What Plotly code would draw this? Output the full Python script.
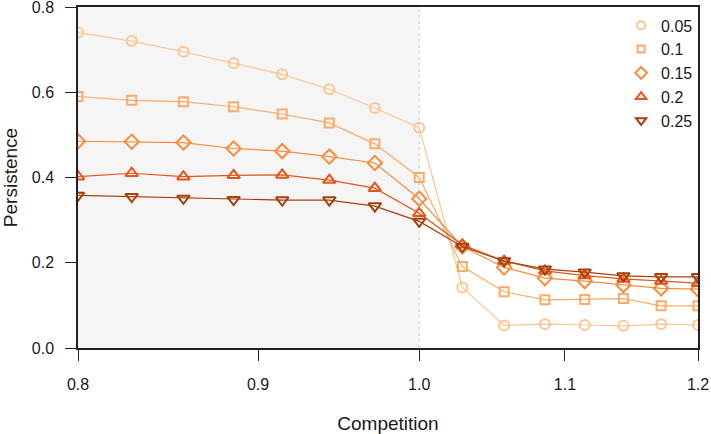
import plotly.graph_objects as go

competition = [0.8, 0.8286, 0.8571, 0.8857, 0.9143, 0.9429, 0.9714, 1.0,
               1.0286, 1.0571, 1.0857, 1.1143, 1.1429, 1.1714, 1.2]

series_names = ["0.05", "0.1", "0.15", "0.2", "0.25"]

p005 = [0.740, 0.720, 0.695, 0.668, 0.642, 0.607, 0.563, 0.517,
        0.142, 0.053, 0.056, 0.054, 0.052, 0.056, 0.054]
p010 = [0.590, 0.581, 0.578, 0.566, 0.549, 0.528, 0.479, 0.400,
        0.191, 0.132, 0.113, 0.114, 0.116, 0.099, 0.099]
p015 = [0.485, 0.484, 0.482, 0.468, 0.462, 0.449, 0.434, 0.350,
        0.238, 0.189, 0.164, 0.157, 0.148, 0.140, 0.138]
p020 = [0.402, 0.410, 0.402, 0.405, 0.406, 0.394, 0.375, 0.316,
        0.242, 0.204, 0.181, 0.170, 0.162, 0.157, 0.152]
p025 = [0.358, 0.355, 0.351, 0.348, 0.347, 0.347, 0.333, 0.297,
        0.238, 0.204, 0.185, 0.178, 0.169, 0.167, 0.167]

values = [p005, p010, p015, p020, p025]
colors = ["#FDC590", "#FBAB66", "#F98C3C", "#E3561A", "#A8400D"]
symbols = ["circle-open", "square-open", "diamond-open", "triangle-up-open", "triangle-down-open"]
sizes = [10, 9, 11, 11, 11]
legend_sizes = [8, 7, 9, 9, 9]

x_ticks = [0.8, 0.9, 1.0, 1.1, 1.2]
x_ticktext = ["0.8", "0.9", "1.0", "1.1", "1.2"]
y_ticks = [0.0, 0.2, 0.4, 0.6, 0.8]
y_ticktext = ["0.0", "0.2", "0.4", "0.6", "0.8"]

fig = go.Figure()

for name, vals, col, sym, sz in zip(series_names, values, colors, symbols, sizes):
    fig.add_trace(go.Scatter(
        x=competition, y=vals, name=name, mode="lines+markers", showlegend=False,
        line=dict(color=col, width=1.2),
        marker=dict(symbol=sym, size=sz, color=col, line=dict(color=col, width=2)),
    ))

# legend entries (markers only, as in the reference)
for name, col, sym, sz in zip(series_names, colors, symbols, legend_sizes):
    fig.add_trace(go.Scatter(
        x=[None], y=[None], name=name, mode="markers",
        marker=dict(symbol=sym, size=sz, color=col, line=dict(color=col, width=2)),
    ))

fig.add_shape(type="rect", xref="x", yref="paper", x0=0.8, x1=1.0, y0=0, y1=1,
              fillcolor="#F5F5F5", line=dict(width=0), layer="below")
fig.add_shape(type="line", xref="x", yref="paper", x0=1.0, x1=1.0, y0=0, y1=1,
              line=dict(color="#C8C8C8", width=1, dash="dot"), layer="below")

font = "Liberation Sans, Arial, Helvetica, sans-serif"

fig.update_layout(
    width=711, height=434,
    margin=dict(l=78, r=13, t=7, b=86, autoexpand=False),
    paper_bgcolor="white", plot_bgcolor="white",
    font=dict(family=font, size=16, color="#1a1a1a"),
    showlegend=True,
    legend=dict(x=0.876, y=0.996, xanchor="left", yanchor="top",
                bgcolor="rgba(0,0,0,0)", font=dict(size=16),
                itemwidth=30, tracegroupgap=0),
    xaxis=dict(type="log", range=[-0.09691, 0.079181], automargin=False,
               tickvals=x_ticks, ticktext=x_ticktext, ticklabeloverflow="allow",
               ticks="outside", ticklen=11, tickwidth=1, tickcolor="#222222",
               showline=True, linecolor="#222222", linewidth=1.5, mirror=True,
               showgrid=False, zeroline=False, ticklabelstandoff=10,
               title=dict(text="Competition", standoff=25)),
    yaxis=dict(range=[0, 0.8], tickvals=y_ticks, ticktext=y_ticktext, automargin=False,
               ticklabeloverflow="allow",
               ticks="outside", ticklen=11, tickwidth=1, tickcolor="#222222",
               showline=True, linecolor="#222222", linewidth=1.5, mirror=True,
               showgrid=False, zeroline=False, ticklabelstandoff=8,
               title=dict(text="Persistence", standoff=11)),
)

fig.write_html("out.html")
